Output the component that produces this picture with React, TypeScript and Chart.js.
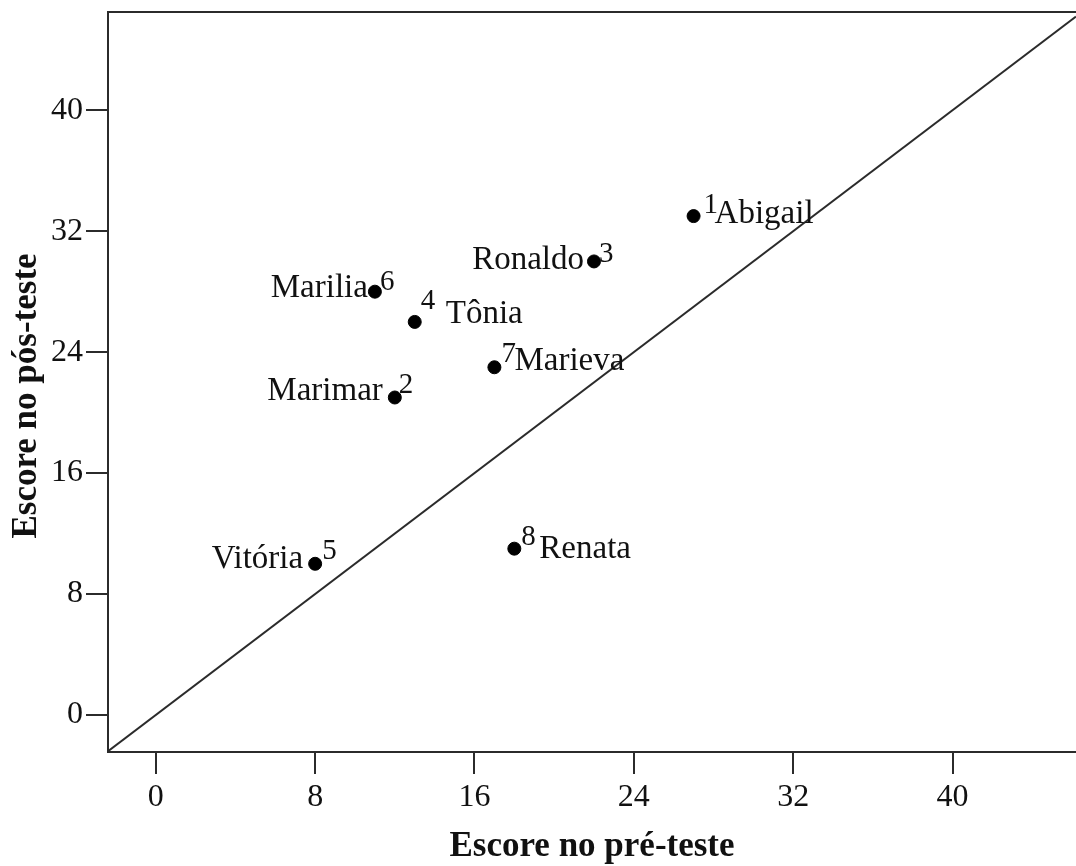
import React, { useEffect, useRef } from "react";
import { Chart, registerables } from "chart.js";

Chart.register(...registerables);

// ---- data ----
const NAMES = ["Abigail", "Marimar", "Ronaldo", "Tônia", "Vitória", "Marilia", "Marieva", "Renata"];
const IDS = ["1", "2", "3", "4", "5", "6", "7", "8"];
const PRE_SCORES = [27, 12, 22, 13, 8, 11, 17, 18];
const POST_SCORES = [33, 21, 30, 26, 10, 28, 23, 11];
const X_TICKS = [0, 8, 16, 24, 32, 40];
const Y_TICKS = [0, 8, 16, 24, 32, 40];
const X_TITLE = "Escore no pré-teste";
const Y_TITLE = "Escore no pós-teste";

// ---- layout / style ----
const X_MIN = -2.4;
const X_MAX = 46.2;
const Y_MIN = -2.45;
const Y_MAX = 46.5;
const SERIF = "'Liberation Serif', 'Times New Roman', 'DejaVu Serif', serif";
const INK = "#2b2b2b";

// label placement relative to each dot: name side/offset and id offset (px)
const LABEL_LAYOUT = [
  { side: "right", nx: 21, ny: 7, ix: 10, iy: -3 },
  { side: "left", nx: -12, ny: 3, ix: 4, iy: -4 },
  { side: "left", nx: -10, ny: 8, ix: 5, iy: 1 },
  { side: "right", nx: 31, ny: 1, ix: 6, iy: -13 },
  { side: "left", nx: -12, ny: 4, ix: 7, iy: -5 },
  { side: "left", nx: -7, ny: 5, ix: 5, iy: -2 },
  { side: "right", nx: 20, ny: 3, ix: 7, iy: -5 },
  { side: "right", nx: 25, ny: 9, ix: 7, iy: -4 },
];

const labelPlugin = {
  id: "pointLabels",
  afterDatasetsDraw(chart: any) {
    const { ctx, scales } = chart;
    const xs = scales.x;
    const ys = scales.y;
    ctx.save();
    ctx.fillStyle = "#111";
    ctx.textBaseline = "alphabetic";
    for (let i = 0; i < NAMES.length; i++) {
      const px = xs.getPixelForValue(PRE_SCORES[i]);
      const py = ys.getPixelForValue(POST_SCORES[i]);
      const L = LABEL_LAYOUT[i];
      ctx.font = `33px ${SERIF}`;
      ctx.textAlign = L.side === "left" ? "right" : "left";
      ctx.fillText(NAMES[i], px + L.nx, py + L.ny);
      ctx.font = `29px ${SERIF}`;
      ctx.textAlign = "left";
      ctx.fillText(IDS[i], px + L.ix, py + L.iy);
    }
    ctx.restore();
  },
  afterDraw(chart: any) {
    const { ctx, chartArea } = chart;
    ctx.save();
    // top frame line
    ctx.strokeStyle = INK;
    ctx.lineWidth = 2;
    ctx.beginPath();
    ctx.moveTo(chartArea.left - 1, chartArea.top);
    ctx.lineTo(chartArea.right, chartArea.top);
    ctx.stroke();
    // axis titles
    ctx.fillStyle = "#111";
    ctx.font = `bold 35px ${SERIF}`;
    ctx.textAlign = "center";
    ctx.textBaseline = "middle";
    ctx.fillText(X_TITLE, (chartArea.left + chartArea.right) / 2, 847);
    ctx.translate(27, 396);
    ctx.rotate(-Math.PI / 2);
    ctx.fillText(Y_TITLE, 0, 0);
    ctx.restore();
  },
};

export default function App() {
  const ref = useRef<HTMLCanvasElement | null>(null);

  useEffect(() => {
    if (!ref.current) return;
    const chart = new Chart(ref.current, {
      type: "scatter",
      data: {
        datasets: [
          {
            type: "line",
            label: "y = x",
            data: [
              { x: X_MIN, y: X_MIN },
              { x: X_MAX, y: X_MAX },
            ],
            borderColor: INK,
            borderWidth: 2,
            pointRadius: 0,
            fill: false,
            tension: 0,
          } as any,
          {
            label: "Participantes",
            data: PRE_SCORES.map((x, i) => ({ x, y: POST_SCORES[i] })),
            backgroundColor: "#000",
            borderColor: "#000",
            pointRadius: 6.5,
            pointHoverRadius: 6.5,
          },
        ],
      },
      options: {
        responsive: false,
        animation: false,
        layout: { autoPadding: false, padding: { top: 12, right: 0, left: 0, bottom: 0 } },
        plugins: {
          legend: { display: false },
          tooltip: { enabled: false },
        },
        scales: {
          x: {
            type: "linear",
            min: X_MIN,
            max: X_MAX,
            afterBuildTicks: (s: any) => {
              s.ticks = X_TICKS.map((v) => ({ value: v }));
            },
            afterFit: (s: any) => {
              s.height = 114;
              s.paddingLeft = 0;
              s.paddingRight = 0;
            },
            grid: {
              drawOnChartArea: false,
              drawTicks: true,
              tickLength: 22,
              color: INK,
              lineWidth: 2,
            },
            border: { display: true, color: INK, width: 2 },
            ticks: {
              color: "#111",
              padding: 4,
              maxRotation: 0,
              font: { family: SERIF, size: 32 },
            },
          },
          y: {
            type: "linear",
            min: Y_MIN,
            max: Y_MAX,
            afterBuildTicks: (s: any) => {
              s.ticks = Y_TICKS.map((v) => ({ value: v }));
            },
            afterFit: (s: any) => {
              s.width = 108;
              s.paddingTop = 0;
              s.paddingBottom = 0;
            },
            grid: {
              drawOnChartArea: false,
              drawTicks: true,
              tickLength: 22,
              color: INK,
              lineWidth: 2,
            },
            border: { display: true, color: INK, width: 2 },
            ticks: {
              color: "#111",
              padding: 3,
              font: { family: SERIF, size: 32 },
            },
          },
        },
      },
      plugins: [labelPlugin],
    });
    return () => chart.destroy();
  }, []);

  return (
    <div style={{ position: "fixed", left: 0, top: 0, width: 1076, height: 866, background: "#fff" }}>
      <canvas ref={ref} width={1076} height={866} style={{ width: 1076, height: 866, display: "block" }} />
    </div>
  );
}
